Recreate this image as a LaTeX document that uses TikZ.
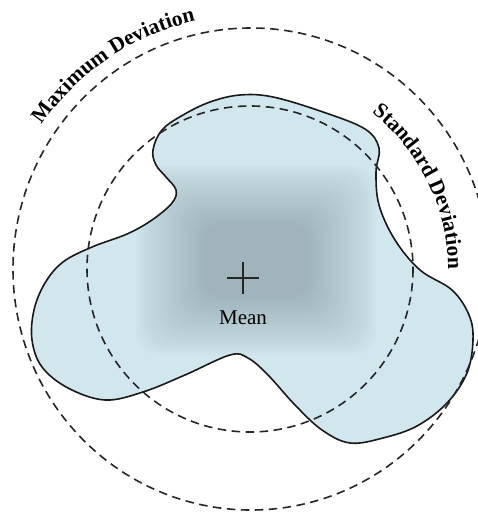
\documentclass[tikz,border=0pt]{standalone}
\usepackage{fontspec}
\setmainfont{Liberation Serif}
\usetikzlibrary{decorations.text}
\definecolor{blobfill}{HTML}{D2E6EE}
\definecolor{corecol}{HTML}{809299}
\newcommand{\labelfont}{\fontsize{21.5}{25}\selectfont\bfseries}
\newcommand{\blobpts}{(153,150) (162,130) (183,115) (210,102) (240,95) (273,97) (323,112) (365,129) (379,148) (376,172) (379,205) (395,240) (420,270) (452,290) (469,315) (473,340) (467,373) (447,403) (417,426) (383,438) (350,443) (322,430) (295,405) (268,375) (248,358) (230,355) (185,375) (143,392) (105,400) (68,388) (42,367) (32,340) (34,310) (45,283) (63,262) (92,247) (127,234) (152,220) (172,203) (176,190) (166,177) (156,165)}
\tikzset{
  dev/.style={dash pattern=on 8.5pt off 5.5pt, line width=1.6pt, black!85},
  blobline/.style={line width=1.6pt, black!90},
  layer/.style={fill=corecol, fill opacity=0.028, rounded corners=22pt},
  meanlabel/.style={font=\fontsize{21}{25}\selectfont, inner sep=0pt},
}
\begin{document}
\begin{tikzpicture}[x=1pt, y=-1pt]
\useasboundingbox (0,0) rectangle (478,513);
\coordinate (outerc) at (251,269);
\coordinate (innerc) at (250,269);
% blob
\begin{scope}
  \clip plot[smooth cycle, tension=0.6] coordinates {\blobpts};
  \fill[blobfill] (0,0) rectangle (478,513);
  \foreach \i in {0,...,23}
    \fill[layer] ({136+3*\i},{165+2.6*\i}) rectangle ({376-3*\i},{355-2.6*\i});
\end{scope}
\draw[blobline] plot[smooth cycle, tension=0.6] coordinates {\blobpts};
% circles
\draw[dev] (outerc) ellipse [x radius=238, y radius=241];
\draw[dev] (innerc) circle [radius=163];
% mean
\coordinate (mean) at (243,278);
\draw[line width=1.3pt, black!85] ([xshift=-16pt]mean) -- ([xshift=16pt]mean);
\draw[line width=1.3pt, black!85] ([yshift=-16pt]mean) -- ([yshift=16pt]mean);
\node[meanlabel] (meanlab) at (243,318) {Mean};
% curved labels
\path[decorate, decoration={text along path, text align=center, text={|\labelfont|Maximum Deviation}}]
  (outerc) ++(-160:254) arc[start angle=-160, end angle=-88, radius=254];
\path[decorate, decoration={text along path, text align=center, text={|\labelfont|Standard Deviation}}]
  (innerc) ++(-62:198) arc[start angle=-62, end angle=10, radius=198];
\end{tikzpicture}
\end{document}
